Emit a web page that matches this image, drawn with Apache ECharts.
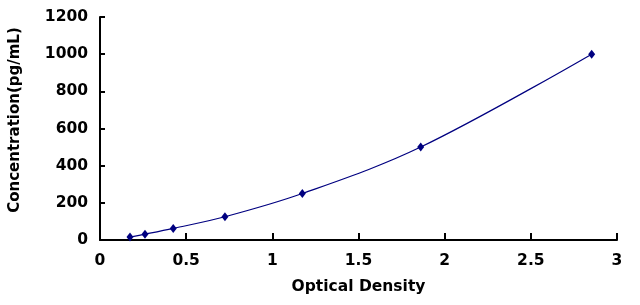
<!DOCTYPE html>
<html>
<head>
<meta charset="utf-8">
<script src="https://cdn.jsdelivr.net/npm/echarts@6/dist/echarts.min.js"></script>
<style>html,body{margin:0;padding:0;background:#fff}#c{width:640px;height:305px}</style>
</head>
<body>
<div id="c"></div>
<script>
const opticalDensity = [0.174, 0.261, 0.425, 0.725, 1.174, 1.861, 2.853];
const concentration = [15.6, 31.2, 62.5, 125, 250, 500, 1000];
const xTitle = 'Optical Density';
const yTitle = 'Concentration(pg/mL)';

const font = 'DejaVu Sans';
const chart = echarts.init(document.getElementById('c'), null, {renderer: 'canvas'});
const pts = opticalDensity.map((x, i) => [x, concentration[i]]);
chart.setOption({
  animation: false,
  backgroundColor: '#fff',
  grid: {left: 100, right: 23, top: 17, bottom: 65, containLabel: false},
  xAxis: {
    type: 'value', min: 0, max: 3, interval: 0.5,
    name: xTitle, nameLocation: 'middle', nameGap: 39,
    nameTextStyle: {fontFamily: font, fontWeight: 'bold', fontSize: 15.5, color: '#000'},
    axisLine: {show: true, onZero: false, lineStyle: {color: '#000', width: 2}},
    axisTick: {show: true, inside: true, length: 7, lineStyle: {color: '#000', width: 2}},
    axisLabel: {margin: 13, fontFamily: font, fontWeight: 'bold', fontSize: 15.5, color: '#000',
      formatter: v => String(v)},
    splitLine: {show: false}
  },
  yAxis: {
    type: 'value', min: 0, max: 1200, interval: 200,
    name: yTitle, nameLocation: 'middle', nameGap: 77,
    nameTextStyle: {fontFamily: font, fontWeight: 'bold', fontSize: 15, color: '#000', padding: [0, 0, 0, 17]},
    axisLine: {show: true, lineStyle: {color: '#000', width: 2}},
    axisTick: {show: true, inside: true, length: 5, lineStyle: {color: '#000', width: 2}},
    axisLabel: {margin: 12, fontFamily: font, fontWeight: 'bold', fontSize: 15.5, color: '#000',
      formatter: v => String(v)},
    splitLine: {show: false}
  },
  series: [{
    type: 'line',
    data: pts,
    smooth: 0.35,
    symbol: 'diamond',
    symbolSize: [7, 9],
    itemStyle: {color: '#000080'},
    lineStyle: {color: '#000080', width: 1.2}
  }]
});
</script>
</body>
</html>
